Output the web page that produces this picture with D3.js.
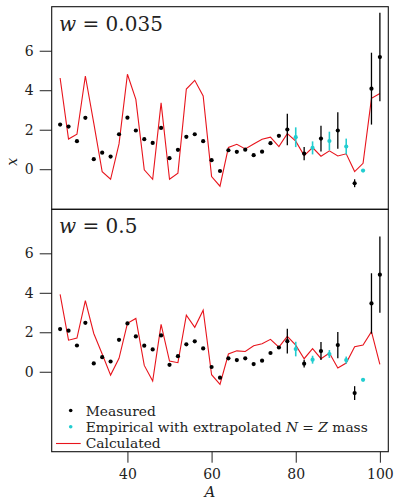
<!DOCTYPE html>
<html><head><meta charset="utf-8">
<script src="https://cdn.jsdelivr.net/npm/d3@7"></script>
<style>body{margin:0;background:#fff}svg{display:block}text{font-family:"DejaVu Serif",serif;fill:#222}</style>
</head><body><svg id="c" width="394" height="500"></svg>
<script>
// ---- data ----
const massNumbers = [24,26,28,30,32,34,36,38,40,42,44,46,48,50,52,54,56,58,60,62,64,66,68,70,72,74,76,78,80,82,84,86,88,90,92,94,96,98,100];
const measuredA = [24,26,28,30,32,34,36,38,40,42,44,46,48,50,52,54,56,58,60,62,64,66,68,70,72,74,76,78,82,86,90,94,98,100];
const empiricalA = [80,84,88,92,96];
const xTicks = [40,60,80,100];
const yTicks = [0,2,4,6];
const panelLabels = ["0.035","0.5"];

const measuredW035 = [2.26,2.16,1.42,2.60,0.51,0.84,0.64,1.77,2.61,1.96,1.52,1.33,2.09,0.56,0.98,1.64,1.77,1.42,0.46,-0.09,0.96,0.88,0.99,0.71,0.89,1.32,1.69,2.01,0.79,1.55,1.96,-0.71,4.08,5.68];
const measuredErrW035 = [0,0,0,0,0,0,0,0,0,0,0,0,0,0,0,0,0,0,0,0,0,0,0,0,0,0,0,0.80,0.33,0.65,0.92,0.20,1.82,2.24];
const empiricalW035 = [1.62,1.08,1.43,1.15,-0.07];
const empiricalErrW035 = [0.50,0.33,0.47,0.40,0];
const calculatedW035 = [4.62,1.53,1.77,4.72,2.33,-0.13,-0.51,1.28,4.81,3.54,-0.03,-0.51,3.36,-0.51,-0.20,4.06,4.50,3.71,-0.37,-0.86,1.10,1.26,1.03,1.28,1.52,1.62,1.15,1.80,1.42,0.69,1.10,0.66,0.93,0.67,0.78,-0.12,0.30,3.59,3.83];

const measuredW05 = [2.16,2.08,1.33,2.48,0.42,0.74,0.52,1.62,2.45,1.79,1.32,1.13,1.84,0.35,0.79,1.39,1.54,1.18,0.24,-0.30,0.68,0.59,0.68,0.39,0.56,0.95,1.23,1.55,0.41,1.05,1.35,-1.08,3.46,4.92];
const measuredErrW05 = [0,0,0,0,0,0,0,0,0,0,0,0,0,0,0,0,0,0,0,0,0,0,0,0,0,0,0,0.63,0.20,0.46,0.67,0.35,1.53,1.93];
const empiricalW05 = [1.15,0.61,0.90,0.59,-0.41];
const empiricalErrW05 = [0.37,0.20,0.20,0.18,0];
const calculatedW05 = [3.92,1.60,1.71,3.60,1.94,0.90,-0.17,0.68,2.45,2.70,0.32,-0.47,2.40,0.54,0.46,2.87,2.25,3.12,-0.15,-0.64,0.90,1.06,1.03,1.32,1.42,1.64,1.25,1.79,1.35,0.66,1.17,0.66,0.95,0.19,0.44,1.27,1.35,2.03,0.37];

const legendLabels = ["Measured","Empirical with extrapolated ","Calculated"];

// ---- layout ----
const svg = d3.select("#c");
const L = 51.7, R = 388.3;
const RED = "#e8141c", CYAN = "#22cdd0";
const x = d3.scaleLinear().domain([22,102]).range([L,R]);

const panels = [
  {top:6.7, bottom:209.3, dom:[-2.03,8.23], meas:measuredW035, mErr:measuredErrW035, emp:empiricalW035, eErr:empiricalErrW035, calc:calculatedW035, label:panelLabels[0], titleY:30.7},
  {top:209.3, bottom:451.7, dom:[-4.05,8.23], meas:measuredW05, mErr:measuredErrW05, emp:empiricalW05, eErr:empiricalErrW05, calc:calculatedW05, label:panelLabels[1], titleY:233.3}
];

panels.forEach((p,pi)=>{
  const y = d3.scaleLinear().domain(p.dom).range([p.bottom,p.top]);
  const g = svg.append("g");
  // y axis
  const ya = g.append("g").attr("transform",`translate(${L},0)`)
    .call(d3.axisLeft(y).tickValues(yTicks).tickSize(12).tickPadding(6).tickFormat(d3.format("d")));
  ya.select(".domain").remove();
  ya.selectAll("line").attr("stroke","#222").attr("stroke-width",1);
  ya.selectAll("text").attr("font-size",14).attr("font-family","DejaVu Serif").attr("fill","#222");

  // calculated line
  g.append("path").datum(massNumbers.map((a,i)=>[a,p.calc[i]]))
    .attr("fill","none").attr("stroke",RED).attr("stroke-width",1.1)
    .attr("d",d3.line().x(d=>x(d[0])).y(d=>y(d[1])));

  // empirical error bars & points
  const emp = empiricalA.map((a,i)=>({a,v:p.emp[i],e:p.eErr[i]}));
  g.selectAll(".ee").data(emp.filter(d=>d.e>0)).enter().append("line")
    .attr("x1",d=>x(d.a)).attr("x2",d=>x(d.a)).attr("y1",d=>y(d.v-d.e)).attr("y2",d=>y(d.v+d.e))
    .attr("stroke",CYAN).attr("stroke-width",1.6);
  g.selectAll(".ep").data(emp).enter().append("circle")
    .attr("cx",d=>x(d.a)).attr("cy",d=>y(d.v)).attr("r",2.1).attr("fill",CYAN);

  // measured error bars & points
  const meas = measuredA.map((a,i)=>({a,v:p.meas[i],e:p.mErr[i]}));
  g.selectAll(".me").data(meas.filter(d=>d.e>0)).enter().append("line")
    .attr("x1",d=>x(d.a)).attr("x2",d=>x(d.a)).attr("y1",d=>y(d.v-d.e)).attr("y2",d=>y(d.v+d.e))
    .attr("stroke","#000").attr("stroke-width",1.3);
  g.selectAll(".mp").data(meas).enter().append("circle")
    .attr("cx",d=>x(d.a)).attr("cy",d=>y(d.v)).attr("r",2.1).attr("fill","#000");

  // frame
  g.append("rect").attr("x",L).attr("y",p.top).attr("width",R-L).attr("height",p.bottom-p.top)
    .attr("fill","none").attr("stroke","#111").attr("stroke-width",1.1);

  // title
  const t = g.append("text").attr("x",59).attr("y",p.titleY).attr("font-size",20);
  t.append("tspan").attr("font-style","italic").text("w");
  t.append("tspan").text(" = " + p.label);

  if (pi===1) {
    const xa = g.append("g").attr("transform",`translate(0,${p.bottom})`)
      .call(d3.axisBottom(x).tickValues(xTicks).tickSize(11).tickPadding(6).tickFormat(d3.format("d")));
    xa.select(".domain").remove();
    xa.selectAll("line").attr("stroke","#222");
    xa.selectAll("text").attr("font-size",14).attr("font-family","DejaVu Serif").attr("fill","#222");

    // legend
    const lg = g.append("g");
    const fs = 13.8;
    lg.append("circle").attr("cx",70.7).attr("cy",410.5).attr("r",1.8).attr("fill","#000");
    lg.append("circle").attr("cx",70.7).attr("cy",426.7).attr("r",1.8).attr("fill",CYAN);
    lg.append("line").attr("x1",56).attr("x2",80.7).attr("y1",443.5).attr("y2",443.5).attr("stroke",RED).attr("stroke-width",1.1);
    lg.append("text").attr("x",85.7).attr("y",416).attr("font-size",fs).text(legendLabels[0]);
    const t2 = lg.append("text").attr("x",85.7).attr("y",432).attr("font-size",fs);
    t2.append("tspan").text(legendLabels[1]);
    t2.append("tspan").attr("font-style","italic").text("N");
    t2.append("tspan").text(" = ");
    t2.append("tspan").attr("font-style","italic").text("Z");
    t2.append("tspan").text(" mass");
    lg.append("text").attr("x",85.7).attr("y",448).attr("font-size",fs).text(legendLabels[2]);
  }
});

// axis labels
svg.append("text").attr("transform","translate(17,161.7) rotate(-90)").attr("text-anchor","middle")
  .attr("font-size",14).attr("font-style","italic").text("x");
svg.append("text").attr("x",210).attr("y",497).attr("text-anchor","middle")
  .attr("font-size",15).attr("font-style","italic").text("A");
</script></body></html>
